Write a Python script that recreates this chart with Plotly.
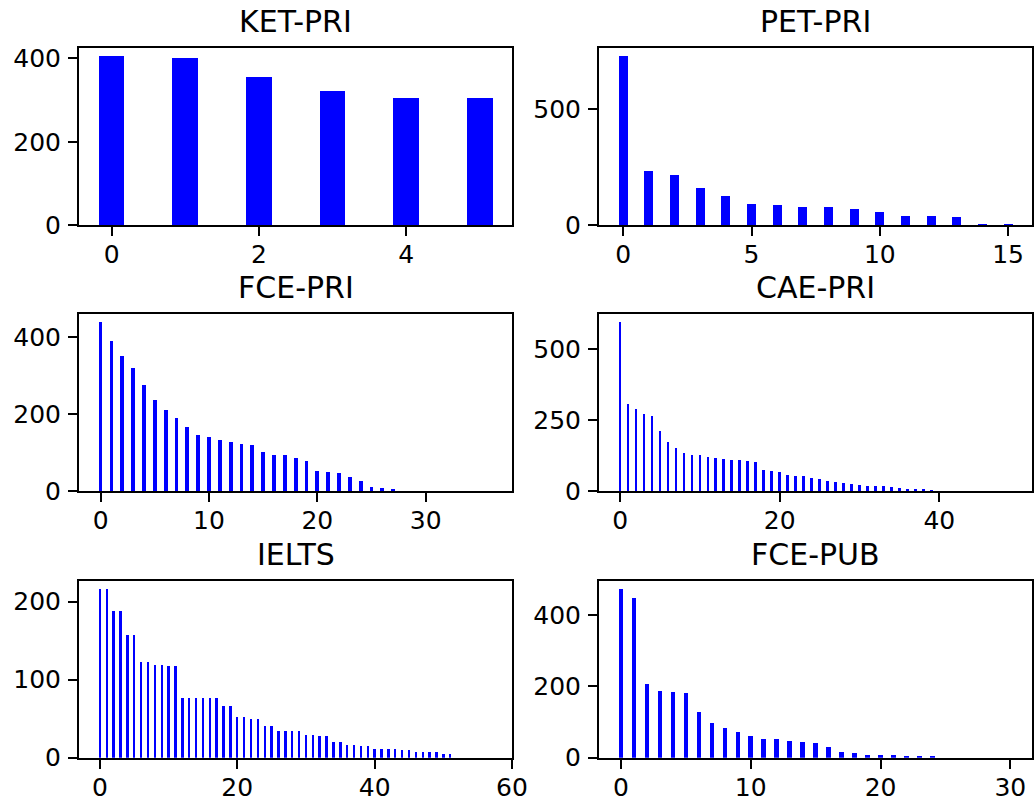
import plotly.graph_objects as go

# ---- data ----
titles = ["KET-PRI", "PET-PRI", "FCE-PRI", "CAE-PRI", "IELTS", "FCE-PUB"]

ket_pri = [405, 402, 357, 323, 306, 306]

pet_pri = [726, 233, 216, 160, 126, 91, 87, 79, 79, 70, 57, 40, 40, 36, 4, 4]

fce_pri = [438, 391, 350, 321, 277, 236, 212, 189, 168, 145, 140, 132, 127, 122,
           119, 101, 93, 93, 86, 78, 52, 49, 47, 36, 26, 10, 8, 5,
           0, 0, 0, 0, 0, 0, 0, 0, 0]

cae_pri = [594, 306, 288, 271, 264, 211, 172, 151, 134, 127, 127, 119, 116, 112,
           109, 109, 105, 102, 74, 70, 67, 56, 53, 53, 46, 42, 35, 32, 28, 25,
           21, 18, 18, 18, 14, 11, 7, 7, 7, 4,
           0, 0, 0, 0, 0, 0, 0, 0, 0, 0]

ielts = [216, 216, 189, 189, 157, 157, 123, 123, 119, 119, 118, 118,
         77, 77, 77, 77, 77, 77, 67, 67, 53, 53, 50, 50, 41, 41,
         35, 35, 35, 35, 30, 30, 28, 28, 20, 20, 17, 17, 16, 16,
         12, 12, 11, 11, 10, 10, 8, 8, 8, 8, 5, 5,
         0, 0, 0, 0, 0, 0]

fce_pub = [472, 448, 206, 189, 184, 181, 128, 97, 83, 72, 61, 52, 52, 49, 44,
           41, 30, 16, 13, 8, 8, 8, 5, 5, 5,
           0, 0, 0, 0, 0, 0]

series = [ket_pri, pet_pri, fce_pri, cae_pri, ielts, fce_pub]
x_dticks = [2, 5, 10, 20, 20, 10]
y_dticks = [200, 500, 200, 250, 100, 200]

BAR_W = 0.35
W, H = 1035, 803

# panel pixel boxes (left, right) and (top, bottom)
cols_px = [(79, 512.3), (599, 1032.3)]
rows_px = [(47.7, 225.3), (313.7, 491.0), (580.7, 757.7)]

FONT = "DejaVu Sans"
fig = go.Figure()
annotations = []

for i, (vals, title) in enumerate(zip(series, titles)):
    r, c = divmod(i, 2)
    ax = "" if i == 0 else str(i + 1)
    xs = list(range(len(vals)))
    fig.add_trace(go.Bar(x=xs, y=vals, width=BAR_W, marker=dict(color="#0000ff", line=dict(width=0)),
                         xaxis="x" + ax, yaxis="y" + ax, showlegend=False))
    n = len(vals) - 1
    span = n + BAR_W
    xr = [-BAR_W / 2 - 0.05 * span, n + BAR_W / 2 + 0.05 * span]
    yr = [0, 1.05 * max(vals)]
    x0, x1 = cols_px[c]
    t, b = rows_px[r]
    common = dict(showline=True, mirror=True, linecolor="black", linewidth=2,
                  ticks="outside", ticklen=9, tickwidth=2, tickcolor="black",
                  showgrid=False, zeroline=False, automargin=False,
                  tickfont=dict(family=FONT, size=25, color="black"))
    fig.layout["xaxis" + ax] = dict(domain=[x0 / W, x1 / W], range=xr, tick0=0, dtick=x_dticks[i],
                                    anchor="y" + ax, ticklabelstandoff=-3, **common)
    fig.layout["yaxis" + ax] = dict(domain=[1 - b / H, 1 - t / H], range=yr, tick0=0, dtick=y_dticks[i],
                                    anchor="x" + ax, ticklabelstandoff=2, **common)
    annotations.append(dict(text=title, xref="paper", yref="paper",
                            x=(x0 + x1) / 2 / W, y=1 - t / H, yshift=7,
                            xanchor="center", yanchor="bottom", showarrow=False,
                            font=dict(family=FONT, size=30, color="black")))

fig.update_layout(width=W, height=H, margin=dict(l=0, r=0, t=0, b=0, autoexpand=False),
                  paper_bgcolor="white", plot_bgcolor="white",
                  annotations=annotations, bargap=0)

fig.write_html("out.html", config={"displayModeBar": False},
               post_script="document.body.style.margin='0';document.body.style.overflow='hidden';")
